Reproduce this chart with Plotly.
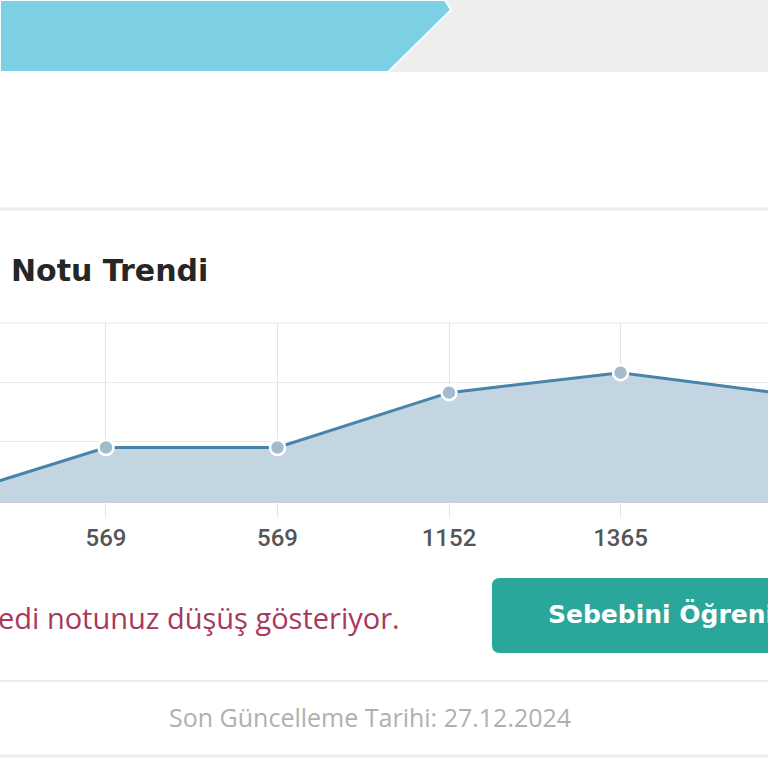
import plotly.graph_objects as go

# ---- data ----
point_index = [0, 1, 2, 3, 4, 5]
score_values = [0, 569, 569, 1152, 1365, 1130]
tick_positions = [1, 2, 3, 4]
tick_labels = ["569", "569", "1152", "1365"]
grid_values = [631, 1262, 1893]

title_text = "Notu Trendi"
warning_text = "edi notunuz düşüş gösteriyor."
button_text = "Sebebini Öğrenin"
footer_text = "Son Güncelleme Tarihi: 27.12.2024"

W = 768.0


def X(px):
    return px / W


def Y(py):
    return 1 - py / W


fig = go.Figure()
fig.add_trace(go.Scatter(
    x=point_index, y=score_values, mode="lines+markers",
    fill="tozeroy", fillcolor="#c3d5e0",
    line=dict(color="#4784ab", width=3),
    marker=dict(size=15, color="#a3bccb", line=dict(color="white", width=2.5)),
    hoverinfo="skip",
))

shapes = []
# top banner
shapes.append(dict(type="rect", xref="paper", yref="paper", x0=X(0), x1=X(768), y0=Y(72), y1=Y(0),
                   fillcolor="#eeeeee", line=dict(width=0), layer="below"))
path = "M {},{} L {},{} L {},{} L {},{} L {},{} Z".format(
    X(0), Y(0), X(445), Y(0), X(451), Y(10), X(388), Y(72), X(0), Y(72))
shapes.append(dict(type="path", xref="paper", yref="paper", path=path,
                   fillcolor="#7dd0e3", line=dict(color="#f4fcff", width=2), layer="below"))
# separators
for py, w in [(209, 3), (681, 2), (756, 3)]:
    shapes.append(dict(type="line", xref="paper", yref="paper", x0=0, x1=1, y0=Y(py), y1=Y(py),
                       line=dict(color="#ececec", width=w), layer="below"))
# top grid line of plot
shapes.append(dict(type="line", xref="paper", yref="paper", x0=0, x1=1, y0=Y(323), y1=Y(323),
                   line=dict(color="#ebebeb", width=1), layer="below"))
# button (rounded rect)
x0, x1, y0, y1, r = 492, 820, 578, 653, 8
bp = ("M {a},{b} L {c},{b} L {c},{d} L {a},{d} Q {e},{d} {e},{f} L {e},{g} Q {e},{b} {a},{b} Z").format(
    a=X(x0 + r), b=Y(y0), c=X(x1), d=Y(y1), e=X(x0), f=Y(y1 - r), g=Y(y0 + r))
shapes.append(dict(type="path", xref="paper", yref="paper", path=bp,
                   fillcolor="#2aa79a", line=dict(width=0)))

annotations = [
    dict(text=title_text, x=X(9), y=Y(270), xref="paper", yref="paper", xanchor="left", yanchor="middle",
         showarrow=False, font=dict(family="DejaVu Sans", size=30, color="#262626", weight="bold")),
    dict(text=warning_text, x=X(-4), y=Y(617), xref="paper", yref="paper", xanchor="left", yanchor="middle",
         showarrow=False, font=dict(family="Open Sans", size=29, color="#a8385c")),
    dict(text=button_text, x=X(546), y=Y(614), xref="paper", yref="paper", xanchor="left", yanchor="middle",
         showarrow=False, font=dict(family="DejaVu Sans", size=25, color="white", weight="bold")),
    dict(text=footer_text, x=X(370), y=Y(717), xref="paper", yref="paper", xanchor="center", yanchor="middle",
         showarrow=False, font=dict(family="Open Sans", size=25, color="#b0b0b0")),
]

fig.update_layout(
    width=768, height=768, margin=dict(l=0, r=0, t=0, b=0),
    paper_bgcolor="white", plot_bgcolor="white", showlegend=False,
    shapes=shapes, annotations=annotations,
    xaxis=dict(domain=[0, 1], range=[0.382, 4.860], tickmode="array", tickvals=tick_positions,
               ticktext=tick_labels, showgrid=True, gridcolor="#e3e3e3", gridwidth=1,
               ticks="outside", ticklen=14, tickcolor="#e3e3e3", tickwidth=1,
               showline=True, linecolor="#cfcfcf", linewidth=2, zeroline=False,
               tickfont=dict(family="Roboto", size=24, color="#555555", weight=500), fixedrange=True),
    yaxis=dict(domain=[Y(501), Y(323)], range=[0, 1893], tickmode="array", tickvals=grid_values,
               showticklabels=False, showgrid=True, gridcolor="#ebebeb", gridwidth=1,
               zeroline=False, showline=False, fixedrange=True),
)

fig.write_html("out.html", config={"displayModeBar": False})
